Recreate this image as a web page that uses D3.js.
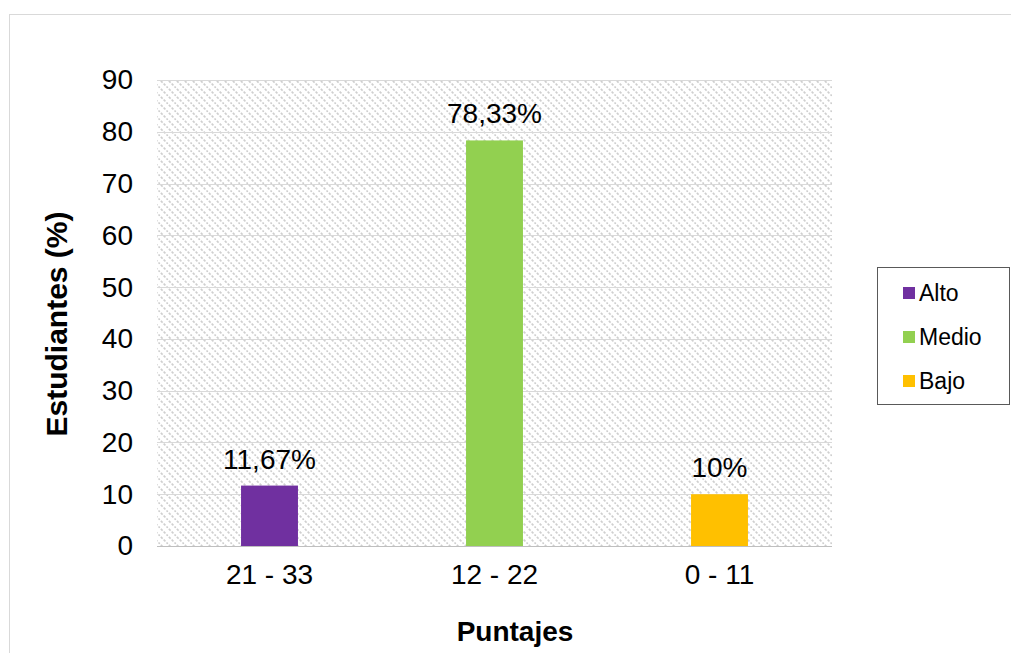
<!DOCTYPE html>
<html><head><meta charset="utf-8">
<script src="https://cdn.jsdelivr.net/npm/d3@7"></script>
<style>body{margin:0;background:#fff;font-family:"Liberation Sans",Arial,sans-serif;}</style>
</head><body>
<svg id="c" width="1011" height="653"></svg>
<script>
const categories = ["21 - 33", "12 - 22", "0 - 11"];
const seriesNames = ["Alto", "Medio", "Bajo"];
const values = [11.67, 78.33, 10];
const valueLabels = ["11,67%", "78,33%", "10%"];
const colors = ["#7030A0", "#92D050", "#FFC000"];
const yTicks = [0,10,20,30,40,50,60,70,80,90];

const svg = d3.select("#c");
const W = 1011, H = 653;
const FONT = "Liberation Sans, Arial, sans-serif";
svg.append("rect").attr("x",9.5).attr("y",14.5).attr("width",W).attr("height",H).attr("fill","#fff").attr("stroke","#d9d9d9");

const m = {l:157, r:832, t:80, b:546};
const x = d3.scaleBand().domain(categories).range([m.l,m.r]).paddingInner(0.747).paddingOuter(0.3735);
const y = d3.scaleLinear().domain([0,90]).range([m.b,m.t]);

const defs = svg.append("defs");
const pat = defs.append("pattern").attr("id","hatch").attr("patternUnits","userSpaceOnUse").attr("width",8).attr("height",8);
pat.append("rect").attr("width",8).attr("height",8).attr("fill","#fff");
pat.append("path").attr("d","M-2,-2 L10,10 M-2,6 L2,10 M6,-2 L10,2").attr("stroke","#cfcfcf").attr("stroke-width",1.6).attr("stroke-dasharray","2.5,1.5");
svg.append("rect").attr("x",m.l).attr("y",m.t).attr("width",m.r-m.l).attr("height",m.b-m.t).attr("fill","url(#hatch)");

// gridlines
svg.append("g").selectAll("line").data(yTicks).join("line")
  .attr("x1",m.l).attr("x2",m.r).attr("y1",d=>Math.round(y(d))+0.5).attr("y2",d=>Math.round(y(d))+0.5)
  .attr("stroke",d=>d===0?"#bfbfbf":"#d9d9d9").attr("stroke-width",1.2);

// y axis labels
const yAxis = d3.axisLeft(y).tickValues(yTicks).tickSize(0).tickPadding(24);
const gy = svg.append("g").attr("transform",`translate(${m.l},0)`).call(yAxis);
gy.select(".domain").remove();
gy.selectAll("text").attr("font-size",28).attr("fill","#000").attr("font-family",FONT);

// x axis labels
const xAxis = d3.axisBottom(x).tickSize(0).tickPadding(18);
const gx = svg.append("g").attr("transform",`translate(0,${m.b})`).call(xAxis);
gx.select(".domain").remove();
gx.selectAll("text").attr("font-size",28).attr("fill","#000").attr("font-family",FONT);

// bars
svg.append("g").selectAll("rect").data(values).join("rect")
  .attr("x",(d,i)=>x(categories[i])).attr("width",x.bandwidth())
  .attr("y",d=>y(d)).attr("height",d=>y(0)-y(d)).attr("fill",(d,i)=>colors[i]);

// value labels
svg.append("g").selectAll("text").data(values).join("text")
  .attr("x",(d,i)=>x(categories[i])+x.bandwidth()/2).attr("y",d=>y(d)-17)
  .attr("text-anchor","middle").attr("font-size",28).attr("fill","#000").text((d,i)=>valueLabels[i]);

// axis titles
svg.append("text").attr("transform","translate(67,324) rotate(-90)").attr("text-anchor","middle")
  .attr("font-size",30).attr("font-weight","bold").text("Estudiantes (%)");
svg.append("text").attr("x",515).attr("y",641).attr("text-anchor","middle")
  .attr("font-size",28).attr("font-weight","bold").text("Puntajes");

// legend
const lg = svg.append("g");
lg.append("rect").attr("x",877.5).attr("y",267.5).attr("width",132).attr("height",137).attr("fill","#fff").attr("stroke","#595959");
seriesNames.forEach((n,i)=>{
  const cy = 293 + i*44;
  lg.append("rect").attr("x",903).attr("y",cy-6).attr("width",12).attr("height",12).attr("fill",colors[i]);
  lg.append("text").attr("x",919).attr("y",cy+8).attr("font-size",23).attr("fill","#000").text(n);
});
</script>
</body></html>
